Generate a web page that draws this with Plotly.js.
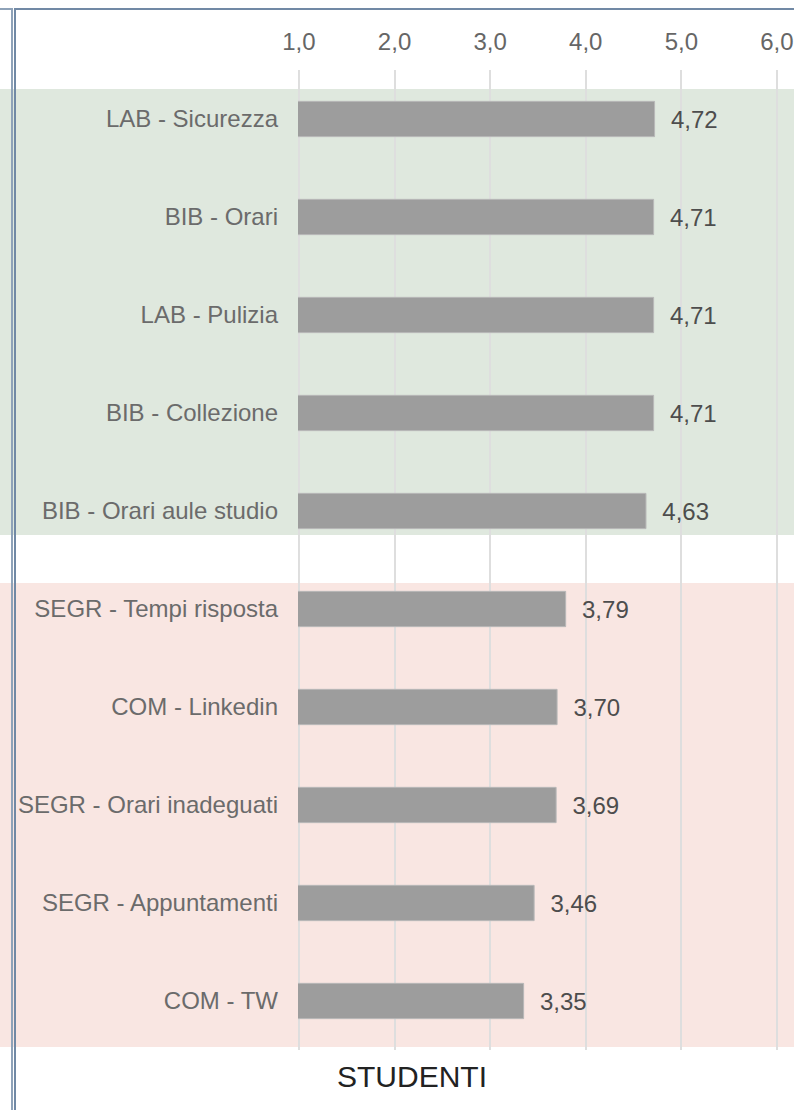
<!DOCTYPE html>
<html>
<head>
<meta charset="utf-8">
<script src="https://cdn.plot.ly/plotly-3.0.1.min.js"></script>
<style>
  html, body { margin: 0; padding: 0; background: #ffffff; }
  #chart { width: 794px; height: 1110px; }
</style>
</head>
<body>
<div id="chart"></div>
<script>
// ---- data ----
var categories = [
  "LAB - Sicurezza",
  "BIB - Orari",
  "LAB - Pulizia",
  "BIB - Collezione",
  "BIB - Orari aule studio",
  "SEGR - Tempi risposta",
  "COM - Linkedin",
  "SEGR - Orari inadeguati",
  "SEGR - Appuntamenti",
  "COM - TW"
];
var values = [4.72, 4.71, 4.71, 4.71, 4.63, 3.79, 3.70, 3.69, 3.46, 3.35];
var tickValues = [1, 2, 3, 4, 5, 6];
var tickLabels = ["1,0", "2,0", "3,0", "4,0", "5,0", "6,0"];
var axisTitle = "STUDENTI";

// ---- layout helpers (pixels -> paper) ----
var W = 794, H = 1110, ML = 298, MR = 0, MT = 70, MB = 60;
var PW = W - ML - MR, PH = H - MT - MB;
function px(x) { return (x - ML) / PW; }
function py(y) { return 1 - (y - MT) / PH; }
var unitPx = 95.6;
var xStart = 0.99;

var labels = values.map(function (v) { return "\u00a0\u00a0" + v.toFixed(2).replace(".", ","); });

var trace = {
  type: "bar",
  orientation: "h",
  y: categories,
  x: values,
  width: 0.36,
  marker: { color: "#9d9d9d", line: { color: "#b8b8b8", width: 1 } },
  text: labels,
  textposition: "outside",
  textfont: { family: "Liberation Sans, Arial, sans-serif", size: 24, color: "#4d4d4d" },
  cliponaxis: false,
  constraintext: "none",
  hoverinfo: "none"
};

var borderCol = "#7189a5";
var gridCol = "#dedede";
var layout = {
  width: W, height: H,
  margin: { l: ML, r: MR, t: MT, b: MB, pad: 0 },
  paper_bgcolor: "#ffffff",
  plot_bgcolor: "rgba(0,0,0,0)",
  showlegend: false,
  separators: ",.",
  font: { family: "Liberation Sans, Arial, sans-serif", size: 24, color: "#666666" },
  xaxis: {
    side: "top",
    range: [xStart, xStart + PW / unitPx],
    tickvals: tickValues,
    ticktext: tickLabels,
    ticks: "",
    ticklabelstandoff: 14,
    showgrid: true,
    gridcolor: gridCol,
    gridwidth: 2,
    zeroline: false,
    showline: false,
    tickfont: { size: 24, color: "#666666" },
    fixedrange: true
  },
  yaxis: {
    type: "category",
    autorange: "reversed",
    ticks: "",
    ticklabelstandoff: 19,
    showgrid: false,
    zeroline: false,
    showline: false,
    tickfont: { size: 24, color: "#6b6b6b" },
    fixedrange: true
  },
  shapes: [
    { type: "rect", xref: "paper", yref: "y", x0: px(0), x1: px(794), y0: -0.306, y1: 4.245,
      fillcolor: "#dfe8de", line: { width: 0 }, layer: "below" },
    { type: "rect", xref: "paper", yref: "y", x0: px(0), x1: px(794), y0: 4.735, y1: 9.469,
      fillcolor: "#f9e6e2", line: { width: 0 }, layer: "below" },
    { type: "line", xref: "x", yref: "paper", x0: tickValues[0], x1: tickValues[0], y0: 0, y1: 1,
      line: { color: gridCol, width: 2 }, layer: "below" },
    { type: "line", xref: "paper", yref: "paper", x0: px(0), x1: px(12), y0: py(9), y1: py(9),
      line: { color: "#8ea2b8", width: 2 }, layer: "above" },
    { type: "line", xref: "paper", yref: "paper", x0: px(12), x1: px(12), y0: py(8), y1: py(1110),
      line: { color: "#8ea2b8", width: 2 }, layer: "above" },
    { type: "line", xref: "paper", yref: "paper", x0: px(15), x1: px(794), y0: py(9), y1: py(9),
      line: { color: borderCol, width: 2 }, layer: "above" },
    { type: "line", xref: "paper", yref: "paper", x0: px(15), x1: px(15), y0: py(8), y1: py(1110),
      line: { color: borderCol, width: 2 }, layer: "above" }
  ],
  annotations: [
    { xref: "paper", yref: "paper", x: px(411.5), y: py(1076), xanchor: "center", yanchor: "middle",
      text: axisTitle, showarrow: false,
      font: { family: "Liberation Sans, Arial, sans-serif", size: 30, color: "#222222" } }
  ]
};

Plotly.newPlot("chart", [trace], layout, { displayModeBar: false, staticPlot: true });
</script>
</body>
</html>
